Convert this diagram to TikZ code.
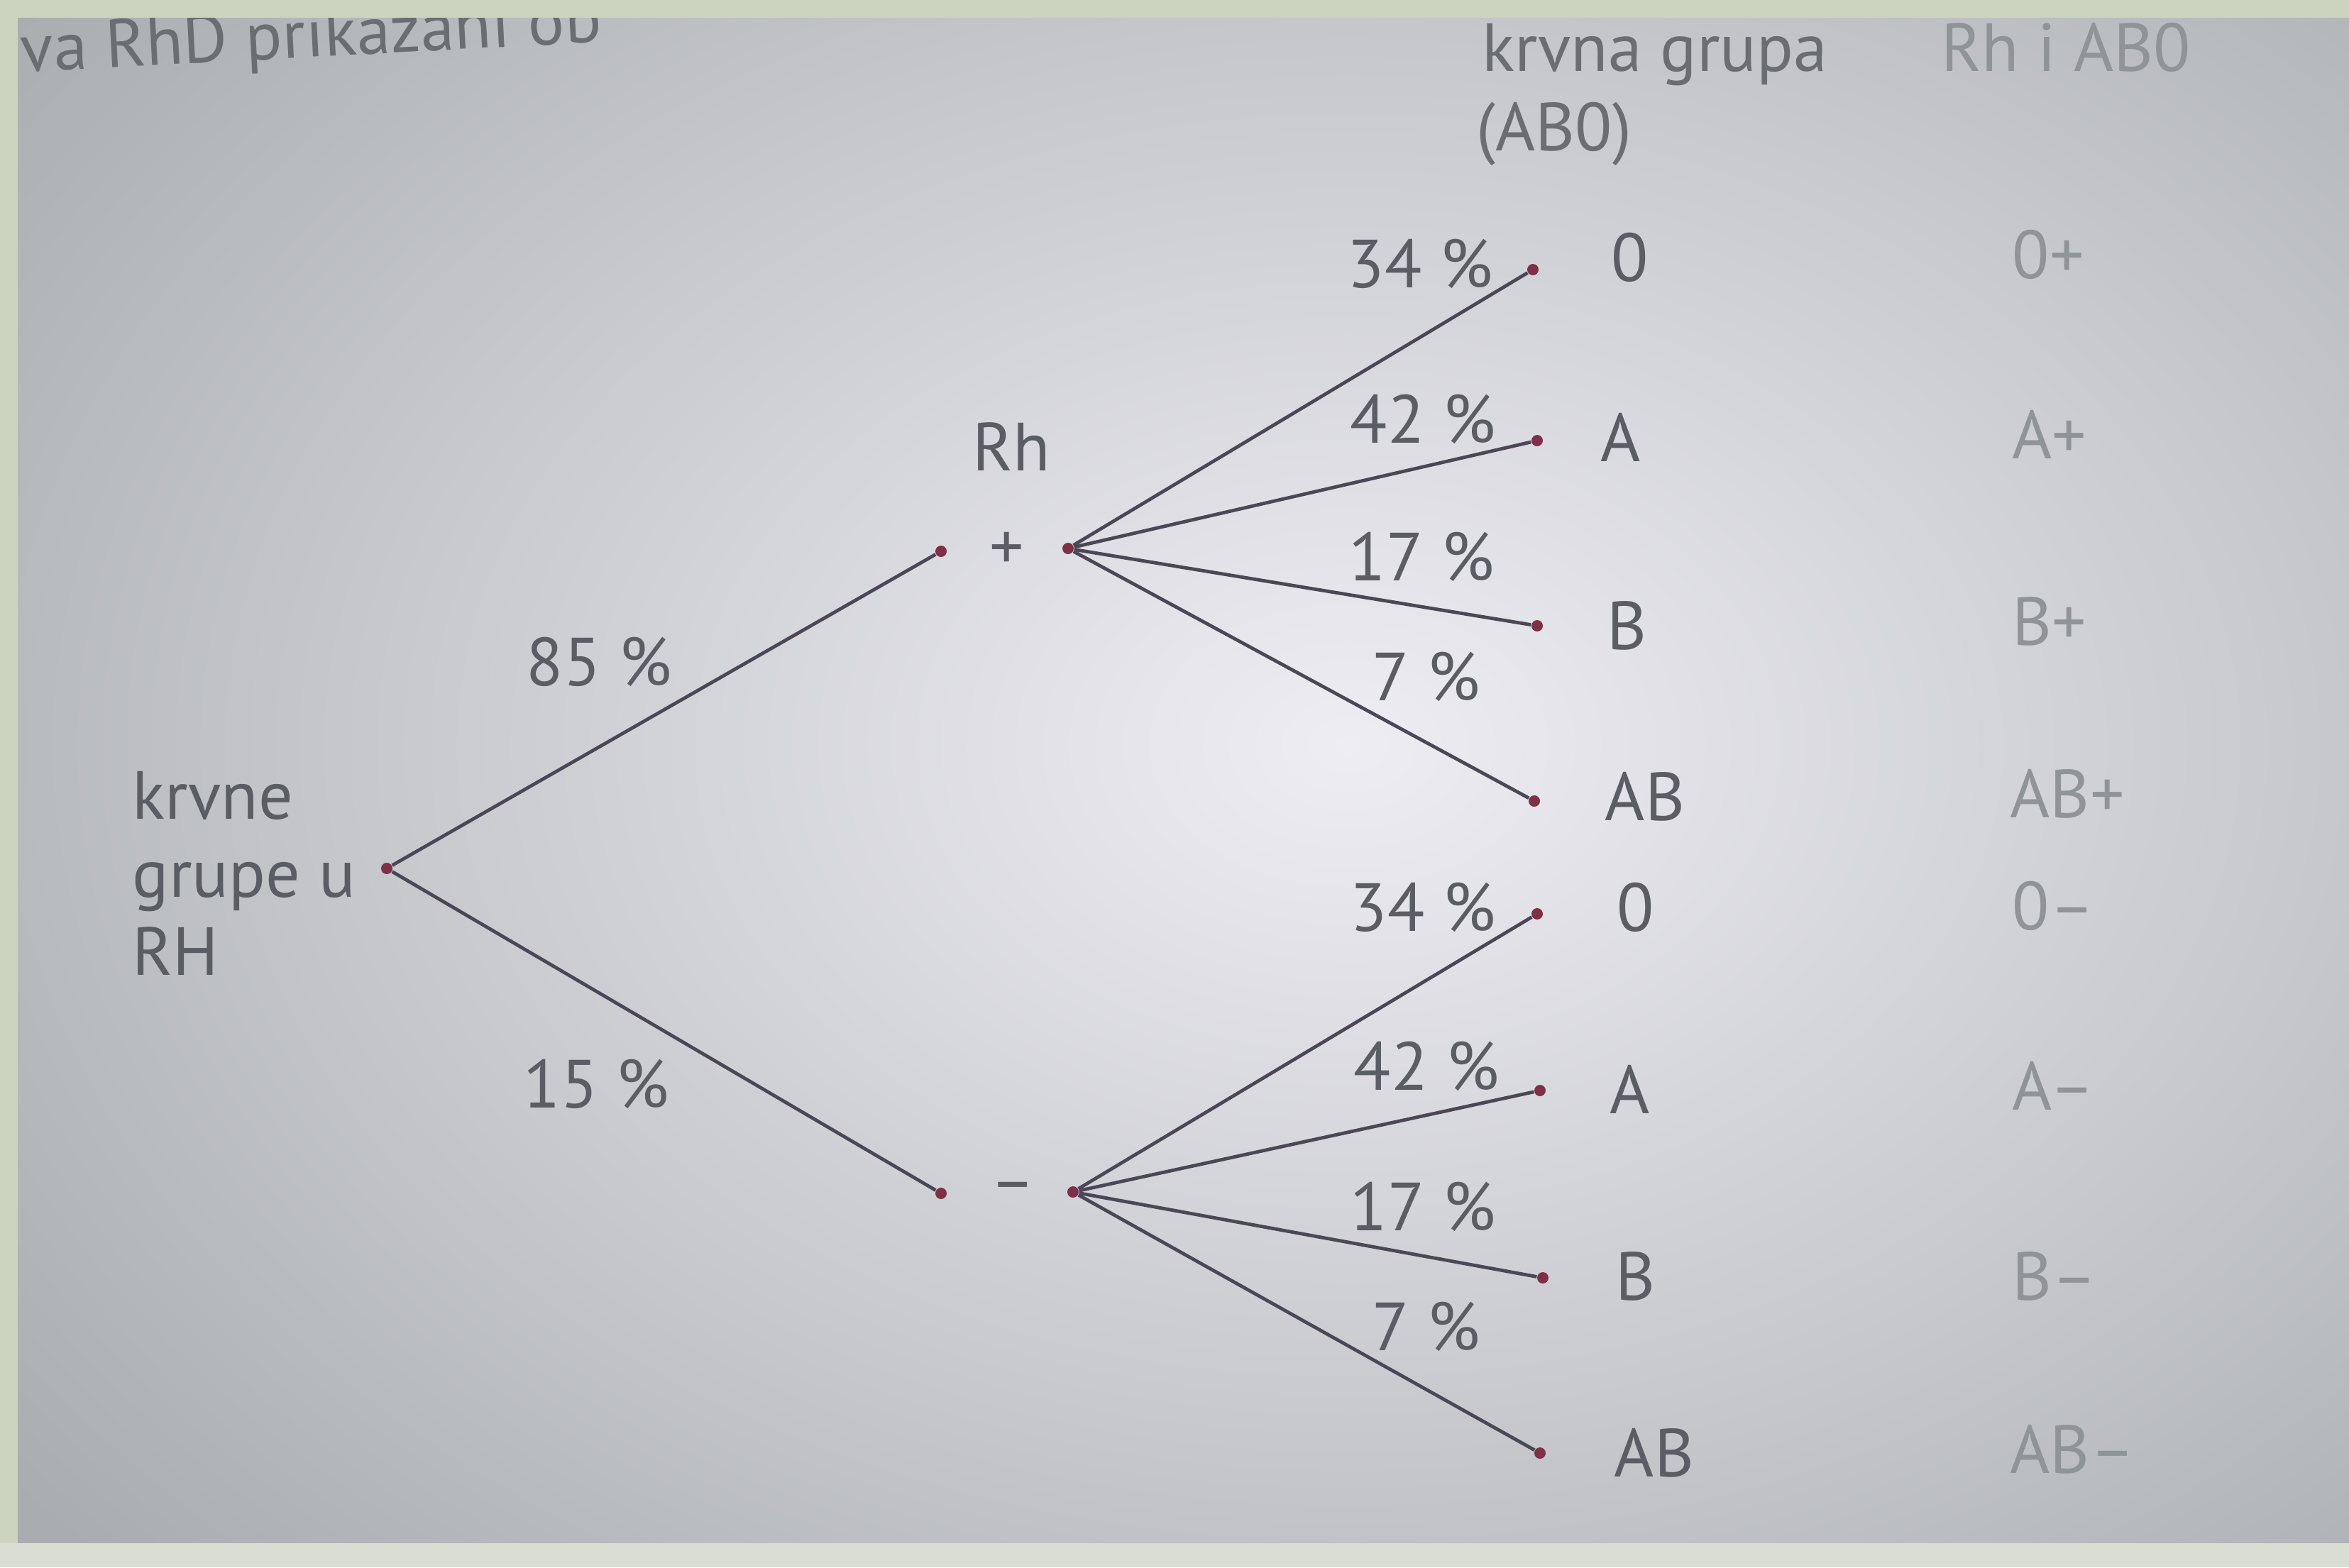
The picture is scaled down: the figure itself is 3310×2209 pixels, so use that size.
\documentclass[tikz,border=0pt]{standalone}
\usepackage{fontspec}
\setmainfont{PT Sans}
\definecolor{greenc}{HTML}{CCD3BE}
\definecolor{bottomc}{HTML}{D9DDD3}
\definecolor{centerc}{HTML}{EEEDF4}
\definecolor{edgec}{HTML}{A9ADAF}
\definecolor{txtc}{HTML}{5B5D64}
\definecolor{headc}{HTML}{6A6E73}
\definecolor{faintc}{HTML}{8F9499}
\definecolor{linec}{HTML}{4C4757}
\definecolor{dotc}{HTML}{7E3047}
\begin{document}
\begin{tikzpicture}[x=0.25pt,y=-0.25pt,
  txt/.style={font=\fontsize{24}{27.5}\selectfont, text=txtc, inner sep=0pt},
  head/.style={font=\fontsize{24}{27.5}\selectfont, text=headc, inner sep=0pt},
  faint/.style={font=\fontsize{24}{27.5}\selectfont, text=faintc, inner sep=0pt, anchor=west},
  dotn/.style={circle, fill=dotc, inner sep=0pt, minimum size=4pt},
  br/.style={draw=linec, line width=1.2pt},
]
\useasboundingbox (0,0) rectangle (3310,2209);
% background
\fill[greenc] (0,0) rectangle (3310,2209);
\begin{scope}
  \clip (25,25) rectangle (3310,2175);
  \shade[inner color=centerc, outer color=edgec] (-500,-650) rectangle (4300,2750);
\end{scope}
\fill[bottomc] (0,2175) rectangle (3310,2209);
% cut-off heading text
\node[head, anchor=base west, rotate=3] (cut) at (30,102) {va RhD prikazani ob};
\fill[greenc] (0,0) rectangle (3310,25);
\fill[greenc] (0,0) rectangle (25,2175);
% column headers
\node[head, anchor=base west] (h1) at (2088,100) {krvna grupa};
\node[head, anchor=base west] (h2) at (2080,212) {(AB0)};
\node[faint, anchor=base west] (h3) at (2735,100) {Rh i AB0};
% root
\node[dotn] (root) at (545,1224) {};
\node[txt, anchor=west, align=left] (rootl) at (186,1231) {krvne\\grupe u\\RH};
% Rh level
\node[txt] (rh) at (1425,629) {Rh};
\node[dotn] (rhp) at (1326,777) {};
\node[dotn] (rhm) at (1326,1682) {};
\node[txt] (plus) at (1419,777) {+};
\node[txt] (minus) at (1427,1682) {–};
\node[dotn] (fp) at (1505,773) {};
\node[dotn] (fm) at (1512,1680) {};
\draw[br] (root) -- (rhp);
\draw[br] (root) -- (rhm);
\node[txt] (p85) at (844,933) {85 \%};
\node[txt] (p15) at (840,1528) {15 \%};
% upper fan ends
\node[dotn] (e1) at (2160,380) {};
\node[dotn] (e2) at (2166,621) {};
\node[dotn] (e3) at (2166,882) {};
\node[dotn] (e4) at (2162,1129) {};
\foreach \e in {e1,e2,e3,e4} \draw[br] (fp) -- (\e);
% lower fan ends
\node[dotn] (f1) at (2166,1288) {};
\node[dotn] (f2) at (2170,1537) {};
\node[dotn] (f3) at (2174,1801) {};
\node[dotn] (f4) at (2170,2048) {};
\foreach \e in {f1,f2,f3,f4} \draw[br] (fm) -- (\e);
% percentages upper
\node[txt] (u34) at (2001,372) {34 \%};
\node[txt] (u42) at (2005,591) {42 \%};
\node[txt] (u17) at (2003,785) {17 \%};
\node[txt] (u7) at (2010,954) {7 \%};
% percentages lower
\node[txt] (l34) at (2005,1279) {34 \%};
\node[txt] (l42) at (2010,1503) {42 \%};
\node[txt] (l17) at (2005,1701) {17 \%};
\node[txt] (l7) at (2010,1870) {7 \%};
% ABO letters
\node[txt] (uO) at (2297,363) {0};
\node[txt] (uA) at (2284,616) {A};
\node[txt] (uB) at (2293,882) {B};
\node[txt] (uAB) at (2318,1123) {AB};
\node[txt] (lO) at (2305,1279) {0};
\node[txt] (lA) at (2297,1535) {A};
\node[txt] (lB) at (2305,1799) {B};
\node[txt] (lAB) at (2331,2048) {AB};
% right column
\node[faint] (r1) at (2835,359) {0+};
\node[faint] (r2) at (2835,612) {A+};
\node[faint] (r3) at (2835,876) {B+};
\node[faint] (r4) at (2832,1119) {AB+};
\node[faint] (r5) at (2835,1277) {0–};
\node[faint] (r6) at (2835,1530) {A–};
\node[faint] (r7) at (2835,1799) {B–};
\node[faint] (r8) at (2832,2043) {AB–};
\end{tikzpicture}
\end{document}
